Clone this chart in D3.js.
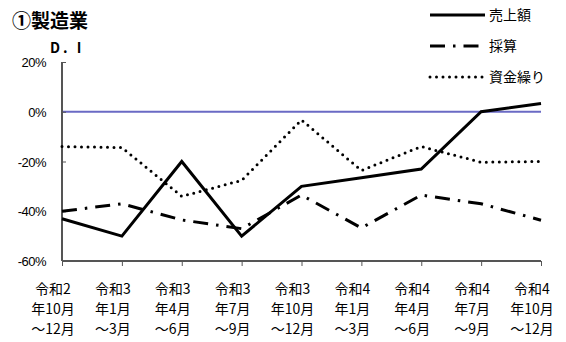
<!DOCTYPE html>
<html>
<head>
<meta charset="utf-8">
<script src="https://cdn.jsdelivr.net/npm/d3@7"></script>
<style>
body { margin: 0; background: #fff; }
text { font-family: "Noto Sans CJK JP", sans-serif; fill: #000; }
</style>
</head>
<body>
<svg width="566" height="342"></svg>
<script>
var categories = [
	['令和2', '年10月', '～12月'],
	['令和3', '年1月', '～3月'],
	['令和3', '年4月', '～6月'],
	['令和3', '年7月', '～9月'],
	['令和3', '年10月', '～12月'],
	['令和4', '年1月', '～3月'],
	['令和4', '年4月', '～6月'],
	['令和4', '年7月', '～9月'],
	['令和4', '年10月', '～12月']
];
var sales = [-43, -50, -20, -50, -30, -26.5, -23, 0, 3.3];
var saisan = [-40, -37, -43.5, -47, -33.5, -46.7, -33.5, -37, -43.6];
var shikin = [-14, -14.4, -34, -27.6, -3.3, -23.6, -14, -20.3, -20];
var yTicks = [20, 0, -20, -40, -60];

var series = [
	{ name: '売上額', values: sales, dash: null, cap: 'butt' },
	{ name: '採算', values: saisan, dash: '15,8,2.5,8', cap: 'butt' },
	{ name: '資金繰り', values: shikin, dash: '0,6.5', cap: 'round' }
];

var svg = d3.select('svg');
var x = d3.scalePoint().domain(d3.range(categories.length)).range([62, 541]);
var y = d3.scaleLinear().domain([-60, 20]).range([261, 62]);

// title
svg.append('text').attr('x', 12).attr('y', 28)
	.style('font-size', '19px').style('font-weight', 'bold').text('①製造業');
svg.append('text').attr('x', 50).attr('y', 53)
	.style('font-size', '14px').style('font-weight', 'bold')
	.style('letter-spacing', '3px').text('D. I');

// zero line
svg.append('line')
	.attr('x1', x(0)).attr('x2', x(8))
	.attr('y1', y(0)).attr('y2', y(0))
	.attr('stroke', '#6a6ac4').attr('stroke-width', 2);

// y axis
var yAxis = svg.append('g').attr('transform', 'translate(62,0)')
	.call(d3.axisRight(y).tickValues(yTicks).tickSize(4).tickFormat(''));
yAxis.select('.domain').attr('stroke', '#555').attr('stroke-width', 2).attr('d', 'M0,' + y(20) + 'V' + y(-60));
yAxis.selectAll('.tick line').attr('stroke', '#555');

svg.selectAll('.ylab').data(yTicks).enter().append('text')
	.attr('class', 'ylab')
	.attr('x', 46).attr('y', function(d) { return y(d) + 5; })
	.attr('text-anchor', 'end')
	.style('font-size', '13px').style('font-family', 'Liberation Sans Narrow, Arial, sans-serif')
	.style('letter-spacing', '-0.5px')
	.text(function(d) { return d + '%'; });

// x axis
var xAxis = svg.append('g').attr('transform', 'translate(0,261)')
	.call(d3.axisBottom(x).tickSize(5).tickFormat(''));
xAxis.select('.domain').attr('stroke', '#555').attr('stroke-width', 2).attr('d', 'M62,0H541');
xAxis.selectAll('.tick line').attr('stroke', '#555');

var labG = svg.append('g');
categories.forEach(function(c, i) {
	c.forEach(function(s, j) {
		labG.append('text')
			.attr('x', x(i) - 9).attr('y', 294 + j * 20)
			.attr('text-anchor', 'middle')
			.style('font-size', '14px')
			.text(s);
	});
});

// lines
var line = d3.line().x(function(d, i) { return x(i); }).y(function(d) { return y(d); });
series.forEach(function(s) {
	svg.append('path')
		.datum(s.values)
		.attr('d', line)
		.attr('fill', 'none')
		.attr('stroke', '#000')
		.attr('stroke-width', 3)
		.attr('stroke-linecap', s.cap)
		.attr('stroke-dasharray', s.dash);
});

// legend
var legG = svg.append('g');
series.forEach(function(s, i) {
	var ly = 15 + i * 31;
	legG.append('line')
		.attr('x1', 430).attr('x2', 485).attr('y1', ly).attr('y2', ly)
		.attr('stroke', '#000').attr('stroke-width', 3)
		.attr('stroke-linecap', s.cap)
		.attr('stroke-dasharray', s.dash);
	legG.append('text')
		.attr('x', 489).attr('y', ly + 5)
		.style('font-size', '14px')
		.text(s.name);
});
</script>
</body>
</html>
